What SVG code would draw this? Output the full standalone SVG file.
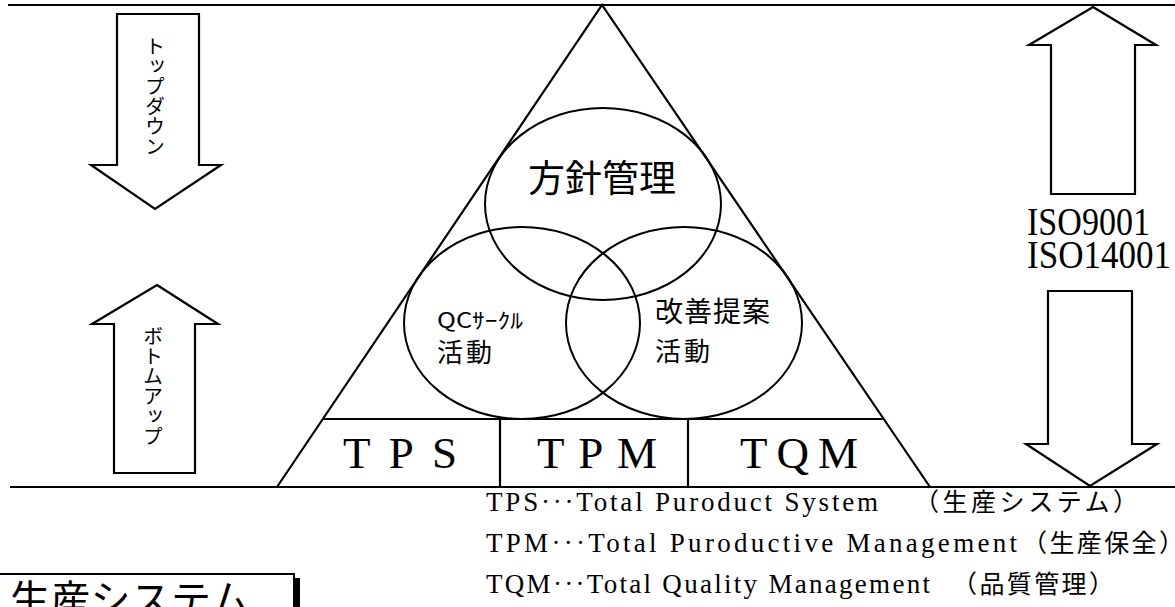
<svg xmlns="http://www.w3.org/2000/svg" width="1175" height="607" viewBox="0 0 1175 607">
<style>
.ln{stroke:#000;stroke-width:2.2;fill:none}
.sh{stroke:#000;stroke-width:2.2;fill:#fff;stroke-linejoin:miter}
.el{stroke:#000;stroke-width:2;fill:none}
.jp{font-family:"Noto Sans CJK JP","Noto Sans CJK SC",sans-serif;fill:#000}
.sr{font-family:"Liberation Serif","DejaVu Serif",serif;fill:#000}
.vt{font-family:"Noto Sans CJK JP",sans-serif;font-size:20px;writing-mode:vertical-rl;fill:#000}
</style>
<rect width="1175" height="607" fill="#fff"/>
<g id="frame">
<line class="ln" x1="8" y1="5" x2="1175" y2="5" stroke-width="2.6"/>
<line class="ln" x1="10" y1="487" x2="1175" y2="487" stroke-width="2.6"/>
</g>
<g id="top-down">
<polygon class="sh" points="117,14 199,14 199,165 221,165 155,209 91,165 117,165"/>
<text class="vt" x="155" y="36">トップダウン</text>
</g>
<g id="bottom-up">
<polygon class="sh" points="157,285 218,324 195,324 195,473 114,473 114,324 92,324"/>
<text class="vt" x="153" y="326">ボトムアップ</text>
</g>
<g id="triangle">
<polyline class="ln" points="277,487 602,5 930,487"/>
<line class="ln" x1="323" y1="419" x2="883" y2="419"/>
<line class="ln" x1="500" y1="419" x2="500" y2="487"/>
<line class="ln" x1="688" y1="419" x2="688" y2="487"/>
</g>
<g id="hoshin">
<ellipse class="el" cx="603" cy="204" rx="118" ry="96"/>
<text class="jp" x="528" y="192" font-size="37" textLength="148">方針管理</text>
</g>
<g id="qc-circle">
<ellipse class="el" cx="522" cy="323" rx="118" ry="96"/>
<text class="jp" x="437" y="328" font-size="21" textLength="86" lengthAdjust="spacingAndGlyphs">QCｻｰｸﾙ</text>
<text class="jp" x="437" y="362" font-size="26" textLength="55">活動</text>
</g>
<g id="kaizen">
<ellipse class="el" cx="684" cy="323" rx="118" ry="96"/>
<text class="jp" x="655" y="322" font-size="28" textLength="115">改善提案</text>
<text class="jp" x="655" y="361" font-size="26" textLength="55">活動</text>
</g>
<g id="tps"><text class="sr" x="343" y="468" font-size="45" textLength="114">TPS</text></g>
<g id="tpm"><text class="sr" x="537" y="468" font-size="45" textLength="120">TPM</text></g>
<g id="tqm"><text class="sr" x="740" y="468" font-size="45" textLength="118">TQM</text></g>
<g id="iso-up">
<polygon class="sh" points="1093,7 1156,45 1135,45 1135,194 1051,194 1051,45 1029,45"/>
</g>
<g id="iso-label">
<text class="sr" x="1027" y="235" font-size="40" textLength="123" lengthAdjust="spacingAndGlyphs">ISO9001</text>
<text class="sr" x="1027" y="268" font-size="40" textLength="144" lengthAdjust="spacingAndGlyphs">ISO14001</text>
</g>
<g id="iso-down">
<polygon class="sh" points="1048,291 1132,291 1132,444 1157,444 1090,486 1026,444 1048,444"/>
</g>
<g id="legend">
<text class="sr" x="486" y="511" font-size="27" textLength="392">TPS···Total Puroduct System</text>
<text class="jp" x="914" y="511" font-size="25" textLength="224">（生産システム）</text>
<text class="sr" x="486" y="552" font-size="27" textLength="531">TPM···Total Puroductive Management</text>
<text class="jp" x="1022" y="552" font-size="25" textLength="162">（生産保全）</text>
<text class="sr" x="486" y="593" font-size="27" textLength="444">TQM···Total Quality Management</text>
<text class="jp" x="952" y="593" font-size="25" textLength="162">（品質管理）</text>
</g>
<g id="seisan-box">
<rect x="-3" y="574" width="297" height="40" fill="#fff" stroke="#000" stroke-width="2"/>
<rect x="294" y="578" width="6" height="30" fill="#000"/>
<text class="jp" x="10" y="614" font-size="40" textLength="240">生産システム</text>
</g>
</svg>
